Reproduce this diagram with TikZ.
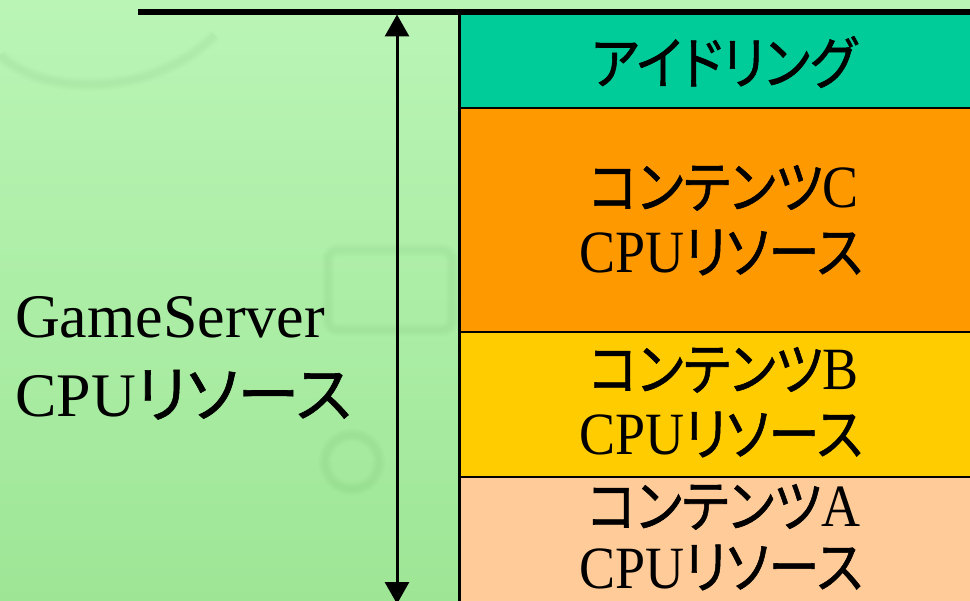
\documentclass[tikz,border=0pt]{standalone}
\usepackage{fontspec}
\setmainfont{Liberation Serif}
\newfontfamily\jp[RawFeature=+palt,FakeBold=1]{Noto Sans CJK JP}
\usetikzlibrary{arrows.meta}

\definecolor{bgtop}{RGB}{186,245,182}
\definecolor{bgbot}{RGB}{158,230,150}
\definecolor{ghost}{RGB}{60,140,60}
\definecolor{idlefill}{RGB}{0,204,153}
\definecolor{cfill}{RGB}{255,153,0}
\definecolor{bfill}{RGB}{255,204,0}
\definecolor{afill}{RGB}{255,204,153}

% horizontal squeeze of the stack labels
\newcommand{\sq}[1]{\scalebox{0.9}[1]{#1}}
% Latin part of a label, a little larger than the kana
\newcommand{\lat}[1]{{\fontsize{60}{65}\selectfont #1}}

\begin{document}
\begin{tikzpicture}[x=1pt,y=-1pt,
  seg/.style={draw=black,line width=2.5pt,minimum width=540pt,anchor=north west,inner sep=0pt},
  lbl/.style={inner sep=0pt,anchor=base,font=\fontsize{57}{65}\selectfont},
  side/.style={inner sep=0pt,anchor=base west,font=\fontsize{62}{79}\selectfont},
  faint/.style={draw=ghost,draw opacity=0.022,line width=#1},
  dimarrow/.style={line width=3pt,{Triangle[width=24pt,length=22pt]}-{Triangle[width=24pt,length=22pt]}}]
\useasboundingbox (0,0) rectangle (970,601);
\clip (0,0) rectangle (970,601);
\shade[top color=bgtop,bottom color=bgbot] (0,0) rectangle (970,601);

% washed-out backdrop motifs
\foreach \w in {5,9,13}{
  \draw[faint=\w pt] (0,55) .. controls (40,95) and (150,100) .. (215,35);
  \draw[faint=\w pt,rounded corners=10pt] (328,250) rectangle (452,330);
  \draw[faint=\w pt] (352,462) circle[radius=27];
}

% stacked CPU shares
\node[seg,fill=idlefill,minimum height=96pt]  (idle) at (458,11)  {};
\node[seg,fill=cfill,minimum height=224pt]    (resC) at (458,107) {};
\node[seg,fill=bfill,minimum height=145pt]    (resB) at (458,331) {};
\node[seg,fill=afill,minimum height=140pt]    (resA) at (458,476) {};

\node[lbl] (tIdle) at (724,84)  {\sq{\jp アイドリング}};
\node[lbl] (tC1)   at (724,208) {\sq{{\jp コンテンツ}\lat{C}}};
\node[lbl] (tC2)   at (721,273) {\sq{\lat{CPU}{\jp リソース}}};
\node[lbl] (tB1)   at (724,390) {\sq{{\jp コンテンツ}\lat{B}}};
\node[lbl] (tB2)   at (721,455) {\sq{\lat{CPU}{\jp リソース}}};
\node[lbl] (tA1)   at (724,527) {\sq{{\jp コンテンツ}\lat{A}}};
\node[lbl] (tA2)   at (721,588) {\sq{\lat{CPU}{\jp リソース}}};

% total resource bracket
\coordinate (lineL) at (138,12);
\coordinate (lineR) at (975,12);
\draw[line width=5.5pt] (lineL) -- (lineR);
\coordinate (arrTop) at (397,14.5);
\coordinate (arrBot) at (397,604);
\draw[dimarrow] (arrTop) -- (arrBot);

\node[side] (gs1) at (15,338) {GameServer};
\node[side] (gs2) at (15,417) {CPU{\jp リソース}};
\end{tikzpicture}
\end{document}
